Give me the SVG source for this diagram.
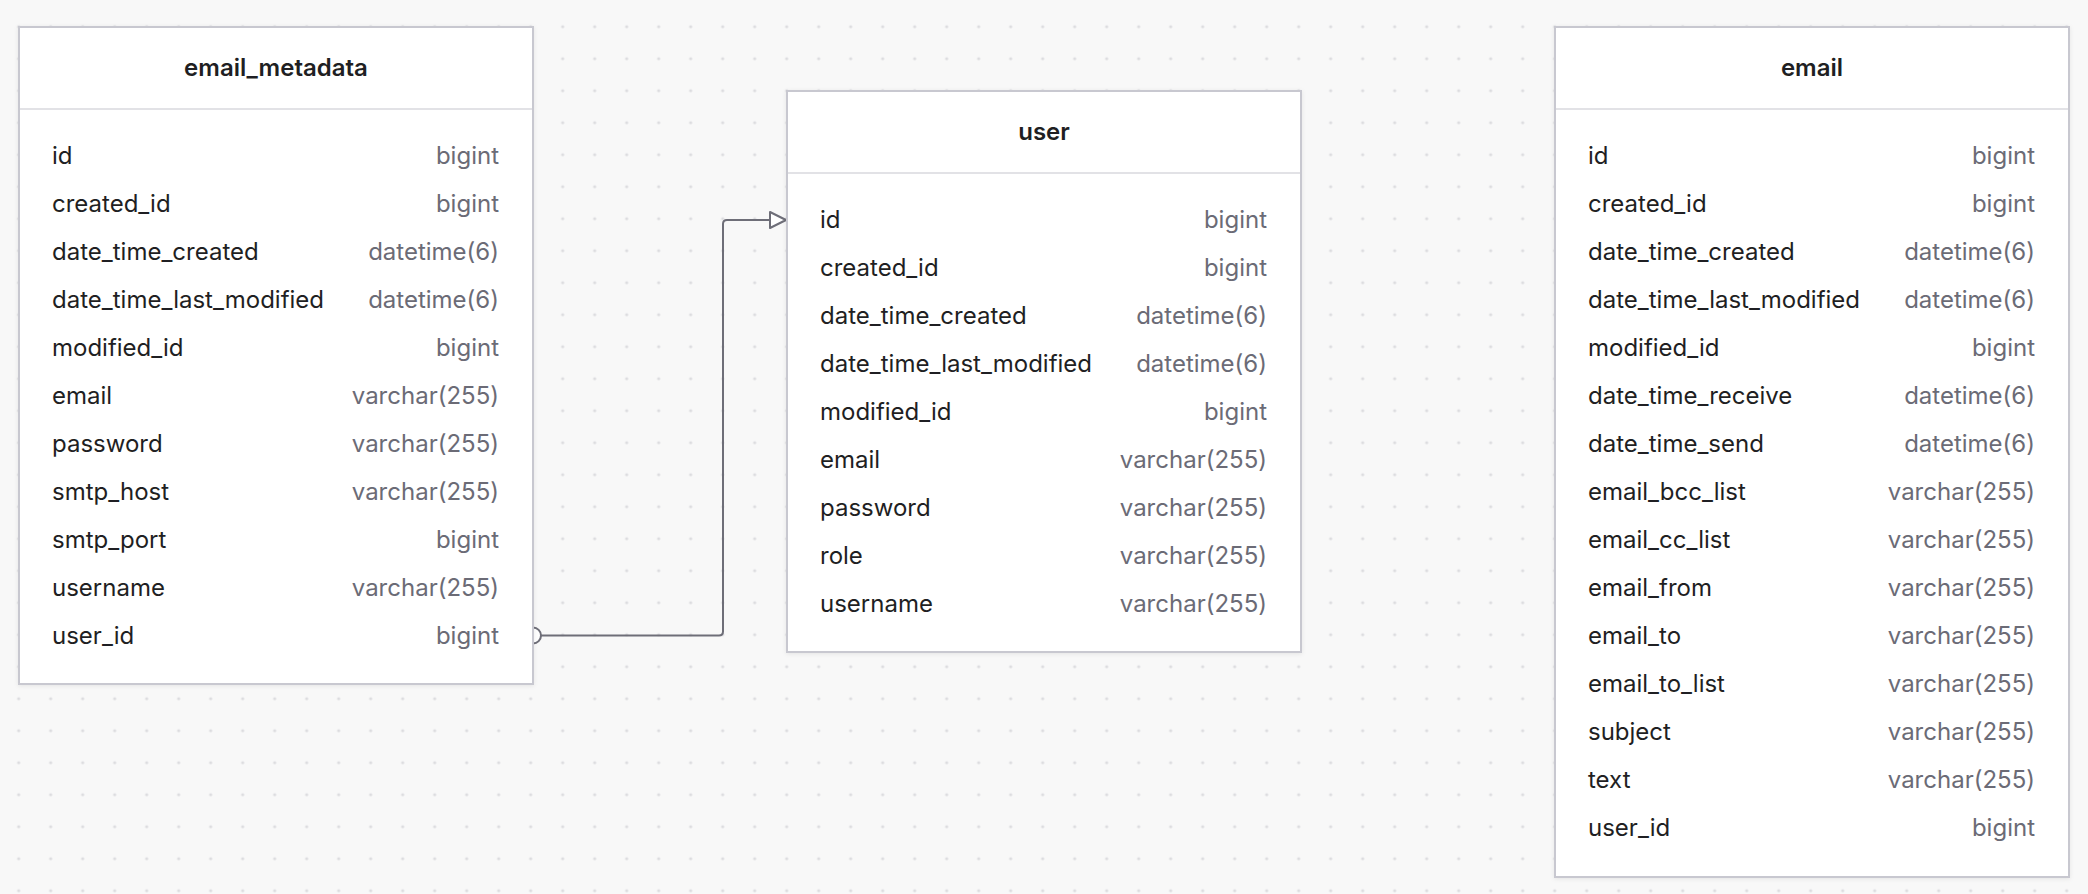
<svg xmlns="http://www.w3.org/2000/svg" width="2088" height="894" viewBox="0 0 2088 894">
  <style>
    .box { fill: #ffffff; stroke: #c8c8d0; stroke-width: 2; }
    .div { stroke: #e2e2e6; stroke-width: 2; }
    .title { font-family: Inter, "Liberation Sans", sans-serif; font-size: 24px; font-weight: 600; fill: #1f1f23; text-anchor: middle; }
    .name { font-family: Inter, "Liberation Sans", sans-serif; font-size: 24px; fill: #1f1f23; }
    .type { font-family: Inter, "Liberation Sans", sans-serif; font-size: 24px; fill: #6b6b76; text-anchor: end; }
    .conn { fill: none; stroke: #6e6e78; stroke-width: 2; }
  </style>
  <defs>
    <pattern id="dots" patternUnits="userSpaceOnUse" x="2.7" y="10.7" width="32" height="32">
      <circle cx="16" cy="16" r="1.6" fill="#dcdcdf"/>
    </pattern>
    <filter id="shadow" x="-5%" y="-5%" width="110%" height="110%">
      <feDropShadow dx="0" dy="1" stdDeviation="2" flood-color="#000000" flood-opacity="0.08"/>
    </filter>
    <marker id="tri" viewBox="-2 -2 20 20" refX="16" refY="8" markerWidth="20" markerHeight="20" markerUnits="userSpaceOnUse" orient="auto">
      <path d="M0,0 L16,8 L0,16 Z" fill="#ffffff" stroke="#6e6e78" stroke-width="2" stroke-linejoin="round"/>
    </marker>
    <marker id="half" viewBox="-2 -11 14 22" refX="0" refY="0" markerWidth="14" markerHeight="22" markerUnits="userSpaceOnUse" orient="auto">
      <path d="M0,-8 A8,8 0 0 1 0,8 Z" fill="#ffffff" stroke="none"/>
      <path d="M0,-8 A8,8 0 0 1 0,8" fill="none" stroke="#6e6e78" stroke-width="2"/>
    </marker>
  </defs>

  <rect x="0" y="0" width="2088" height="894" fill="#f8f8f8"/>
  <rect x="0" y="0" width="2088" height="894" fill="url(#dots)"/>

  <g id="connectors">
    <path class="conn" d="M533,635.5 H719 Q723,635.5 723,631.5 V224 Q723,220 727,220 H786" marker-start="url(#half)" marker-end="url(#tri)"/>
  </g>

  <g id="email_metadata" transform="translate(19,27)">
    <rect class="box" x="0" y="0" width="514" height="657" filter="url(#shadow)"/>
    <line class="div" x1="1" y1="82" x2="513" y2="82"/>
    <text class="title" x="257" y="49">email_metadata</text>
    <text class="name" x="33" y="137">id</text><text class="type" x="480" y="137">bigint</text>
    <text class="name" x="33" y="185">created_id</text><text class="type" x="480" y="185">bigint</text>
    <text class="name" x="33" y="233">date_time_created</text><text class="type" x="480" y="233">datetime(6)</text>
    <text class="name" x="33" y="281">date_time_last_modified</text><text class="type" x="480" y="281">datetime(6)</text>
    <text class="name" x="33" y="329">modified_id</text><text class="type" x="480" y="329">bigint</text>
    <text class="name" x="33" y="377">email</text><text class="type" x="480" y="377">varchar(255)</text>
    <text class="name" x="33" y="425">password</text><text class="type" x="480" y="425">varchar(255)</text>
    <text class="name" x="33" y="473">smtp_host</text><text class="type" x="480" y="473">varchar(255)</text>
    <text class="name" x="33" y="521">smtp_port</text><text class="type" x="480" y="521">bigint</text>
    <text class="name" x="33" y="569">username</text><text class="type" x="480" y="569">varchar(255)</text>
    <text class="name" x="33" y="617">user_id</text><text class="type" x="480" y="617">bigint</text>
  </g>

  <g id="user" transform="translate(787,91)">
    <rect class="box" x="0" y="0" width="514" height="561" filter="url(#shadow)"/>
    <line class="div" x1="1" y1="82" x2="513" y2="82"/>
    <text class="title" x="257" y="49">user</text>
    <text class="name" x="33" y="137">id</text><text class="type" x="480" y="137">bigint</text>
    <text class="name" x="33" y="185">created_id</text><text class="type" x="480" y="185">bigint</text>
    <text class="name" x="33" y="233">date_time_created</text><text class="type" x="480" y="233">datetime(6)</text>
    <text class="name" x="33" y="281">date_time_last_modified</text><text class="type" x="480" y="281">datetime(6)</text>
    <text class="name" x="33" y="329">modified_id</text><text class="type" x="480" y="329">bigint</text>
    <text class="name" x="33" y="377">email</text><text class="type" x="480" y="377">varchar(255)</text>
    <text class="name" x="33" y="425">password</text><text class="type" x="480" y="425">varchar(255)</text>
    <text class="name" x="33" y="473">role</text><text class="type" x="480" y="473">varchar(255)</text>
    <text class="name" x="33" y="521">username</text><text class="type" x="480" y="521">varchar(255)</text>
  </g>

  <g id="email" transform="translate(1555,27)">
    <rect class="box" x="0" y="0" width="514" height="850" filter="url(#shadow)"/>
    <line class="div" x1="1" y1="82" x2="513" y2="82"/>
    <text class="title" x="257" y="49">email</text>
    <text class="name" x="33" y="137">id</text><text class="type" x="480" y="137">bigint</text>
    <text class="name" x="33" y="185">created_id</text><text class="type" x="480" y="185">bigint</text>
    <text class="name" x="33" y="233">date_time_created</text><text class="type" x="480" y="233">datetime(6)</text>
    <text class="name" x="33" y="281">date_time_last_modified</text><text class="type" x="480" y="281">datetime(6)</text>
    <text class="name" x="33" y="329">modified_id</text><text class="type" x="480" y="329">bigint</text>
    <text class="name" x="33" y="377">date_time_receive</text><text class="type" x="480" y="377">datetime(6)</text>
    <text class="name" x="33" y="425">date_time_send</text><text class="type" x="480" y="425">datetime(6)</text>
    <text class="name" x="33" y="473">email_bcc_list</text><text class="type" x="480" y="473">varchar(255)</text>
    <text class="name" x="33" y="521">email_cc_list</text><text class="type" x="480" y="521">varchar(255)</text>
    <text class="name" x="33" y="569">email_from</text><text class="type" x="480" y="569">varchar(255)</text>
    <text class="name" x="33" y="617">email_to</text><text class="type" x="480" y="617">varchar(255)</text>
    <text class="name" x="33" y="665">email_to_list</text><text class="type" x="480" y="665">varchar(255)</text>
    <text class="name" x="33" y="713">subject</text><text class="type" x="480" y="713">varchar(255)</text>
    <text class="name" x="33" y="761">text</text><text class="type" x="480" y="761">varchar(255)</text>
    <text class="name" x="33" y="809">user_id</text><text class="type" x="480" y="809">bigint</text>
  </g>
</svg>
